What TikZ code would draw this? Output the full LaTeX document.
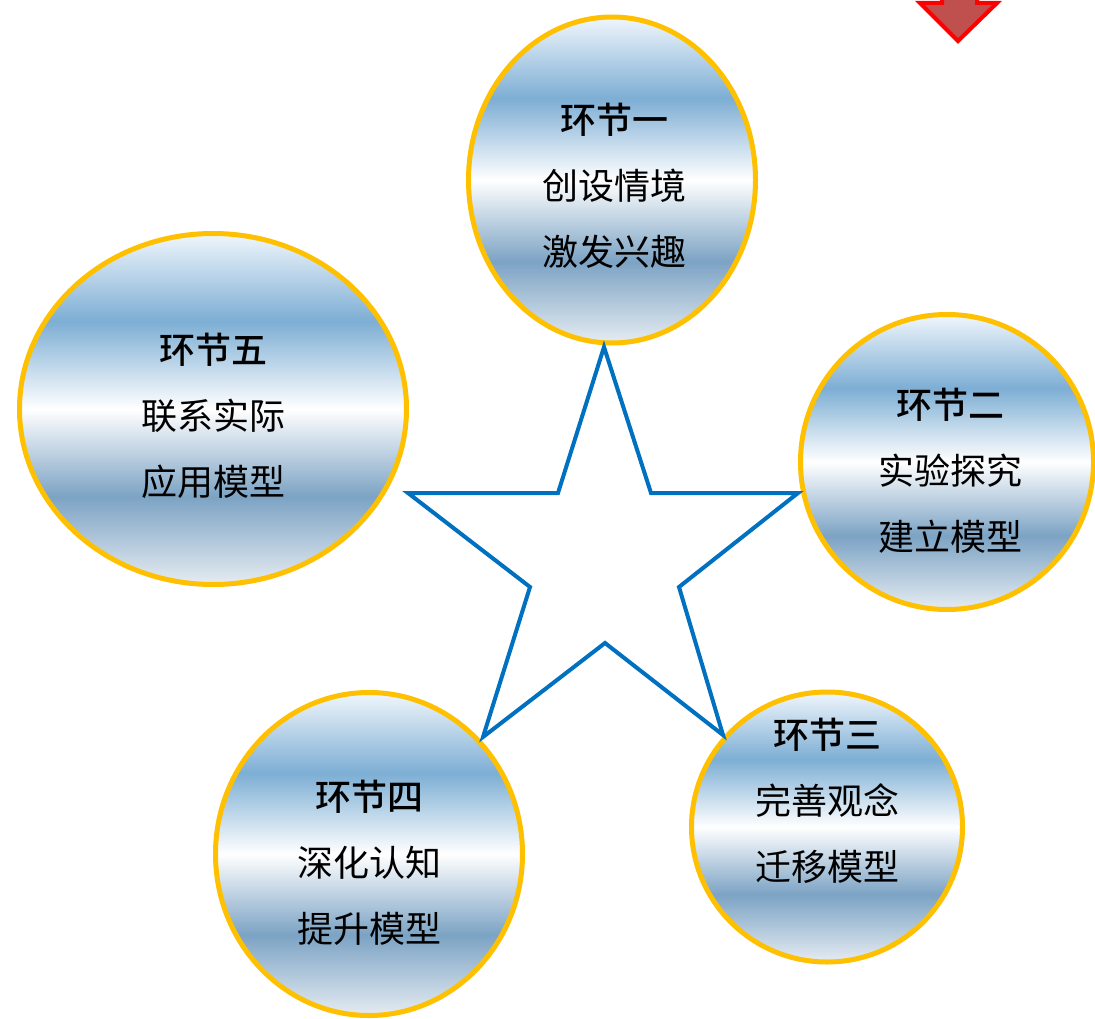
\documentclass[tikz,border=0pt]{standalone}
\usepackage{fontspec}
\newfontfamily\cjk[BoldFont={Noto Sans CJK SC Medium}]{Noto Sans CJK SC}
\usetikzlibrary{shapes.geometric}
\definecolor{ringc}{HTML}{FFC000}
\definecolor{starc}{HTML}{0070C0}
\definecolor{arrowfill}{HTML}{C0504D}
\definecolor{mtop}{RGB}{240,246,252}
\definecolor{mblueA}{RGB}{125,174,212}
\definecolor{mblueB}{RGB}{124,163,196}
\definecolor{mbot}{RGB}{230,236,242}
\pgfdeclareverticalshading{metal}{100bp}{color(0bp)=(mbot); color(25bp)=(mbot); color(37.5bp)=(mblueB); color(50bp)=(white); color(62.5bp)=(mblueA); color(75bp)=(mtop); color(100bp)=(mtop)}
\tikzset{
  ring/.style={ellipse, draw=ringc, line width=5pt, shading=metal, inner sep=0pt},
  lbl/.style={font=\cjk\fontsize{36}{66}\selectfont, align=center, text=black, inner sep=0pt},
  starline/.style={draw=starc, line width=4pt, line join=miter},
  downarrow/.style={fill=arrowfill, draw=red, line width=4pt, line join=miter}
}
\begin{document}
\begin{tikzpicture}[x=1pt, y=-1pt]
\useasboundingbox (0,0) rectangle (1095,1019);
\clip (0,0) rectangle (1095,1019);
\fill[white] (0,0) rectangle (1095,1019);
% red arrow (clipped at top)
\draw[downarrow] (942,-30) -- (942,3) -- (920,3) -- (958,41) -- (997,3) -- (977,3) -- (977,-30) -- cycle;
% ellipses
\node[ring, minimum width=287pt, minimum height=326pt] (e1) at (612,180) {};
\node[ring, minimum width=293pt, minimum height=295pt] (e2) at (947,462) {};
\node[ring, minimum width=271pt, minimum height=270pt] (e3) at (827,827) {};
\node[ring, minimum width=307pt, minimum height=323pt] (e4) at (369,854) {};
\node[ring, minimum width=387pt, minimum height=351pt] (e5) at (213,409) {};
% labels
\node[lbl] (t1) at (614,186) {{\bfseries 环节一}\\创设情境\\激发兴趣};
\node[lbl] (t2) at (950,471) {{\bfseries 环节二}\\实验探究\\建立模型};
\node[lbl] (t3) at (827,801) {{\bfseries 环节三}\\完善观念\\迁移模型};
\node[lbl] (t4) at (369,863) {{\bfseries 环节四}\\深化认知\\提升模型};
\node[lbl] (t5) at (213,416) {{\bfseries 环节五}\\联系实际\\应用模型};
% star
\draw[starline] (604,347) -- (651,493) -- (798,493) -- (679,587) -- (723,735) -- (605,643) -- (483,737) -- (530,587) -- (408,493) -- (558,493) -- cycle;
\end{tikzpicture}
\end{document}
